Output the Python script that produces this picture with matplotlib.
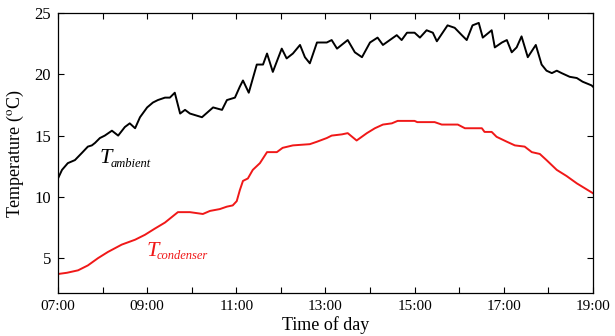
import matplotlib
matplotlib.use("Agg")
import matplotlib.pyplot as plt
import numpy as np

plt.rcParams['font.family'] = ['Liberation Serif', 'DejaVu Serif']
plt.rcParams['mathtext.fontset'] = 'stix'

# Ambient temperature (hours of day, °C)
amb_hours = [7.00, 7.09, 7.22, 7.38, 7.54, 7.67, 7.76, 7.83, 7.94, 8.05, 8.21, 8.35, 8.50, 8.61,
             8.73, 8.84, 9.00, 9.13, 9.24, 9.40, 9.51, 9.62, 9.74, 9.85, 9.96, 10.23, 10.48,
             10.68, 10.79, 10.97, 11.08, 11.15, 11.28, 11.46, 11.60, 11.69, 11.82, 12.02, 12.13,
             12.27, 12.43, 12.54, 12.65, 12.81, 13.03, 13.14, 13.26, 13.50, 13.66, 13.82, 14.00,
             14.17, 14.29, 14.60, 14.71, 14.83, 15.00, 15.12, 15.27, 15.41, 15.50, 15.74, 15.90,
             16.06, 16.17, 16.30, 16.44, 16.53, 16.73, 16.80, 16.96, 17.07, 17.18, 17.29, 17.40,
             17.54, 17.72, 17.85, 17.96, 18.08, 18.19, 18.30, 18.48, 18.64, 18.77, 18.97, 19.00]
amb_temp = [11.5, 12.2, 12.75, 13.0, 13.6, 14.1, 14.2, 14.4, 14.8, 15.0, 15.4, 15.0, 15.7, 16.0,
            15.6, 16.5, 17.3, 17.7, 17.9, 18.1, 18.1, 18.5, 16.8, 17.1, 16.8, 16.5, 17.3,
            17.1, 17.9, 18.1, 19.0, 19.5, 18.5, 20.8, 20.8, 21.7, 20.2, 22.1, 21.3,
            21.7, 22.4, 21.4, 20.9, 22.6, 22.6, 22.8, 22.1, 22.8, 21.8, 21.4, 22.6,
            23.0, 22.4, 23.2, 22.8, 23.4, 23.4, 23.0, 23.6, 23.4, 22.7, 24.0, 23.8,
            23.2, 22.8, 24.0, 24.2, 23.0, 23.6, 22.2, 22.6, 22.8, 21.8, 22.2, 23.1,
            21.4, 22.4, 20.8, 20.3, 20.1, 20.3, 20.1, 19.8, 19.7, 19.4, 19.1, 19.0]

# Condenser temperature (hours of day, °C)
cond_hours = [7.00, 7.20, 7.45, 7.67, 7.90, 8.12, 8.43, 8.73, 8.95, 9.17, 9.40, 9.69, 9.96,
              10.25, 10.41, 10.63, 10.79, 10.92, 11.01, 11.08, 11.15, 11.26, 11.37, 11.53,
              11.69, 11.91, 12.04, 12.27, 12.65, 12.81, 13.03, 13.14, 13.37, 13.50, 13.70,
              13.93, 14.11, 14.29, 14.49, 14.62, 15.00, 15.06, 15.45, 15.61, 15.97, 16.13,
              16.51, 16.57, 16.73, 16.84, 17.07, 17.25, 17.47, 17.63, 17.81, 17.96, 18.19,
              18.41, 18.64, 18.82, 19.00]
cond_temp = [3.7, 3.8, 4.0, 4.4, 5.0, 5.5, 6.1, 6.5, 6.9, 7.4, 7.9, 8.75, 8.75,
             8.6, 8.85, 9.0, 9.2, 9.3, 9.65, 10.55, 11.3, 11.5, 12.2, 12.75,
             13.65, 13.65, 14.0, 14.2, 14.3, 14.5, 14.8, 15.0, 15.1, 15.2, 14.6,
             15.2, 15.6, 15.9, 16.0, 16.2, 16.2, 16.1, 16.1, 15.9, 15.9, 15.6,
             15.6, 15.3, 15.3, 14.9, 14.5, 14.2, 14.1, 13.65, 13.5, 13.0, 12.2,
             11.7, 11.1, 10.7, 10.3]

x_ticks = [7, 8, 9, 10, 11, 12, 13, 14, 15, 16, 17, 18, 19]
x_labels = ['07:00', '', '09:00', '', '11:00', '', '13:00', '', '15:00', '', '17:00', '', '19:00']
y_ticks = [5, 10, 15, 20, 25]

RED = '#f01818'

fig = plt.figure(figsize=(6.15, 3.36), dpi=100)
ax = fig.add_axes([0.0943, 0.128, 0.8697, 0.833])

ax.plot(amb_hours, amb_temp, color='black', lw=1.4)
ax.plot(cond_hours, cond_temp, color=RED, lw=1.4)

ax.set_xlim(7, 19)
ax.set_ylim(2.15, 25)
ax.set_xticks(x_ticks)
ax.set_xticklabels(x_labels, fontsize=11)
ax.set_yticks(y_ticks)
ax.set_yticklabels([str(v) for v in y_ticks], fontsize=12)
ax.tick_params(direction='in', top=True, right=True, length=4, width=0.8, pad=5)
for s in ax.spines.values():
    s.set_linewidth(0.9)

ax.set_xlabel('Time of day', fontsize=13, labelpad=2)
ax.set_ylabel('Temperature ($^{\\rm o}$C)', fontsize=13, labelpad=6)

ax.text(7.94, 12.75, 'T', fontsize=16, fontstyle='italic', color='black', va='baseline')
ax.text(8.18, 12.45, 'ambient', fontsize=9, fontstyle='italic', color='black', va='baseline')
ax.text(8.98, 5.2, 'T', fontsize=16, fontstyle='italic', color=RED, va='baseline')
ax.text(9.22, 4.9, 'condenser', fontsize=9, fontstyle='italic', color=RED, va='baseline')

fig.savefig('out.png', dpi=100)
